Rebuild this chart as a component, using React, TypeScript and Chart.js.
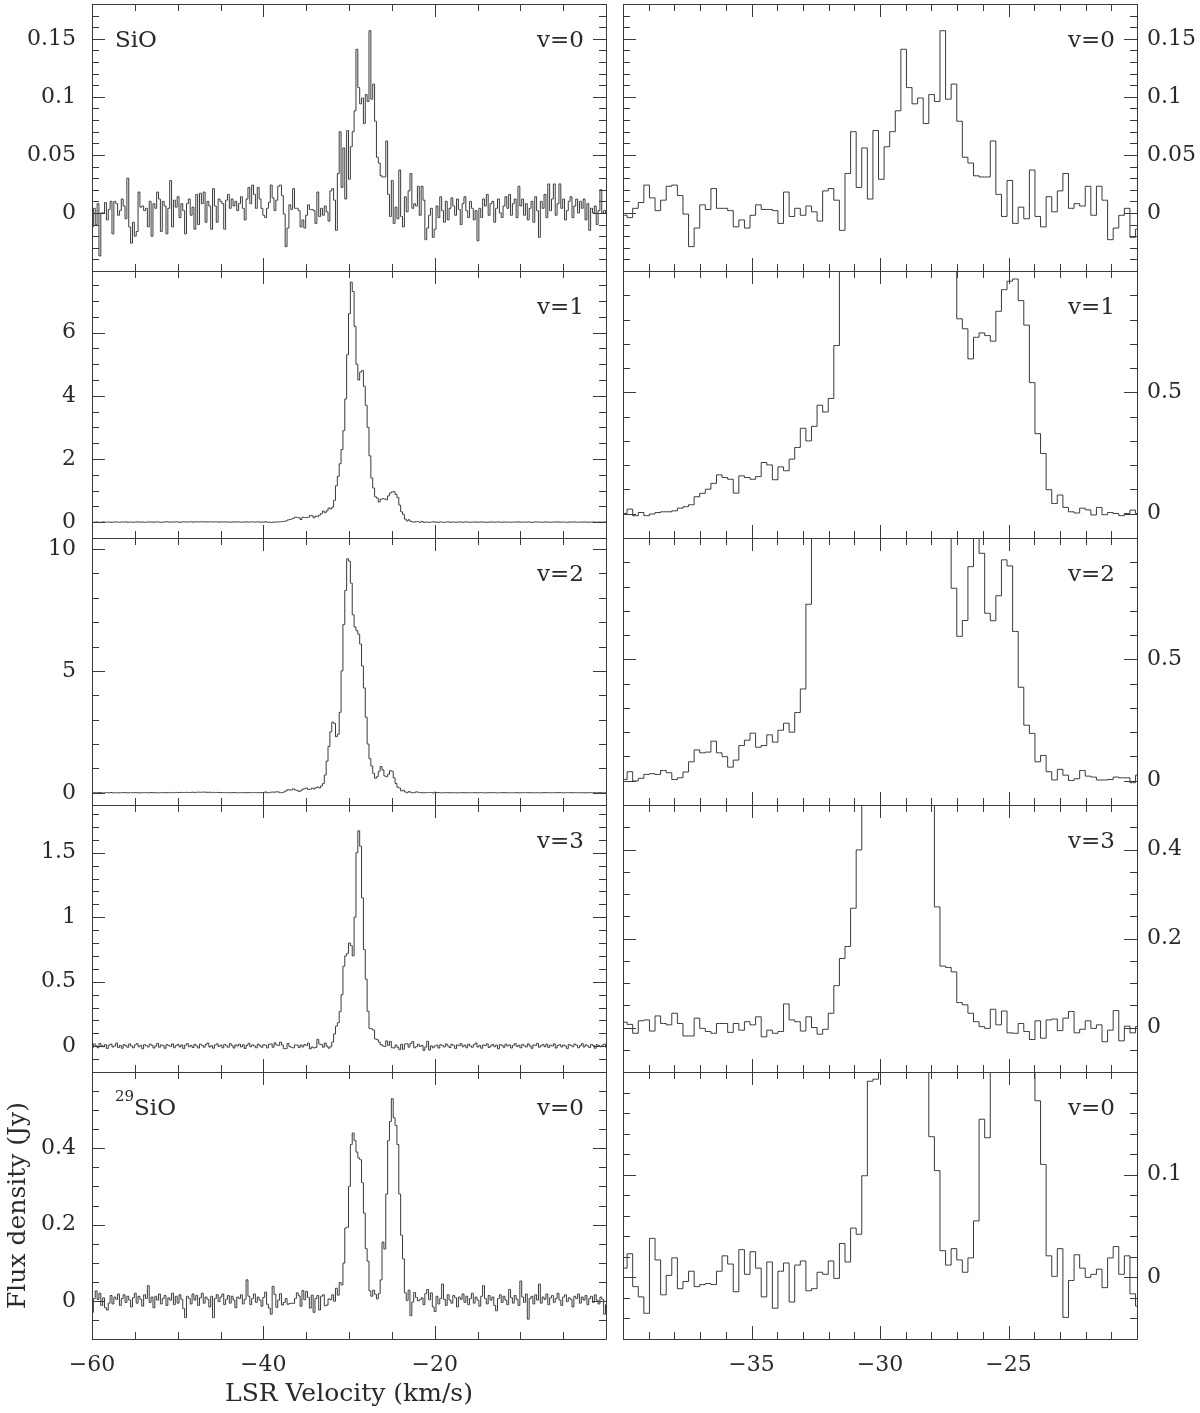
import React, { useEffect, useRef } from "react";
import { Chart, registerables } from "chart.js";

Chart.register(...registerables);

// ---------------- data ----------------
// channel grid (km/s): first channel centre and channel width
const V0 = -59.95;
const DV = 0.2174;

// SiO v=0
const sio0Blue = [
  -0.012, 0.004, -0.01, 0.008, -0.037, 0, 0, 0.009, -0.006, 0.003,
  0.01, -0.018, 0.01, 0.008, -0.002, 0.002, 0.012, 0.006, -0.005, 0.03,
  -0.012, -0.026, -0.008, -0.02, -0.016, 0.018, 0.005, 0.006, 0.002, 0.004,
  -0.012, 0.01, -0.02, 0.008, 0.004, 0.018, 0.012, -0.016, 0.01, 0.006,
  -0.018, 0.004, 0.028, -0.012, 0.011, 0.005, 0.014, -0.004, 0.008, 0.002,
  -0.018, 0.008, 0.012, -0.002, 0.005, -0.014, 0.016, -0.01, 0.017, 0.008,
  0.018, -0.008, 0.01, 0.006, -0.014, 0.021, 0.006, -0.008, 0.012, 0.01,
  0.008, -0.014, 0.011, 0.016, 0.004, 0.012, 0.006, 0.01, 0.002, 0.008,
  0.014, 0.004, -0.006, 0.012, 0.022, 0.008, 0.024, 0.016, 0.004, 0.022,
  0.012, 0.004,
];
const sio0Core = [
  -0.002, -0.004, 0.004, 0.009, 0.024, 0.013, 0.002, 0.011, 0.023, 0.024,
  0.015, -0.001, -0.029, -0.013, 0.007, 0.003, 0.021, 0.004, 0.004, 0.002,
  -0.012, -0.006, -0.013, -0.002, 0.007, 0.003, 0.003, 0.002, -0.009, 0.018,
  -0.003, 0.004, -0.002, 0.006, 0.001, -0.007, 0.019, 0.021, 0.011, -0.015,
  0.034, 0.07, 0.022, 0.056, 0.012, 0.071, 0.029, 0.057, 0.07, 0.088,
  0.141, 0.108, 0.094, 0.099, 0.077, 0.102, 0.096, 0.157, 0.098, 0.111,
  0.079, 0.048, 0.043, 0.032, 0.031, 0.031, 0.062, 0.016, -0.003, 0.028,
  -0.009, 0.005, -0.005, 0.037, -0.003, -0.012, 0.014, 0.001, 0.019, 0.034,
  0.004, 0.008, 0.006, 0.023, -0.002, 0.023, 0.011, -0.023, -0.013, -0.002,
  0.004, -0.021, -0.014,
];
const sio0Red = [
  0.006, -0.004, 0.014, 0.002, -0.008, 0.01, -0.006, 0.004, 0.013, 0.006,
  -0.002, 0.012, 0.003, -0.01, 0.008, 0.014, 0.002, -0.004, 0.01, 0.004,
  -0.006, 0.002, -0.024, 0.004, -0.004, 0.012, 0.006, 0.016, -0.002, 0.008,
  0.01, -0.008, 0.004, 0.012, 0, -0.004, 0.006, 0.014, 0.004, 0.016,
  -0.002, 0.008, 0.012, -0.004, 0.023, 0.006, 0.012, -0.002, 0.008, -0.006,
  0.004, 0.01, -0.008, 0.014, 0.002, -0.021, 0.01, 0.004, 0.016, -0.004,
  0.025, 0.002, 0.012, 0.025, -0.002, 0.008, 0.025, 0.004, 0.012, -0.006,
  0.002, 0.01, 0.014, -0.004, 0.006, 0.012, 0, 0.01, 0.004, 0.012,
  -0.006, 0.008, -0.015, 0.004, 0, 0.006, -0.01, 0.002, 0.02, 0,
  0.002, 0,
];

// SiO v=1
const v1Blue = [
  0.006, -0.004, 0.008, 0.002, -0.006, 0.004, 0.01, -0.002, 0.004, 0.008,
  -0.004, 0.002, 0.006, 0.01, 0, -0.004, 0.008, 0.004, 0.01, -0.002,
  0.006, 0.002, -0.006, 0.004, 0.01, 0.006, 0, 0.008, -0.004, 0.002,
  0.01, 0.004, 0.006, -0.002, 0.008, 0.01, 0.002, -0.006, 0.004, 0.008,
  0.012, 0.006, 0, 0.01, 0.004, 0.012, 0.006, -0.002, 0.008, 0.014,
  0.006, 0.002, 0.01, 0.012, 0.004, 0.008, 0.014, 0.006, 0.01, 0.016,
  0.008, 0.012, 0.004, 0.01, 0.014, 0.006, 0.012, 0.008, 0.002, 0.01,
  0.006, 0.012, 0.004, 0.008, -0.002, 0.006, 0.01, 0.004, 0.012, 0.006,
  0, 0.008, 0.004, 0.01, 0.002, 0.008, 0.012, 0.004, 0.006, 0.01,
  0.002, 0.006,
];
const v1Core = [
  0.001, 0.019, -0.008, 0.005, -0.008, -0.001, 0.005, 0.008, 0.008, 0.012,
  0.023, 0.029, 0.037, 0.07, 0.084, 0.101, 0.125, 0.16, 0.149, 0.142,
  0.085, 0.156, 0.149, 0.142, 0.153, 0.211, 0.201, 0.14, 0.193, 0.177,
  0.225, 0.273, 0.352, 0.3, 0.36, 0.447, 0.419, 0.475, 0.693, 1.15,
  1.45, 1.85, 2.3, 2.9, 3.9, 5.3, 6.6, 7.6, 7.3, 6.2,
  5.0, 4.5, 4.75, 4.8, 4.3, 3.7, 3.0, 2.1, 1.4, 1.08,
  0.803, 0.762, 0.638, 0.727, 0.745, 0.734, 0.711, 0.834, 0.923, 0.958,
  0.967, 0.878, 0.777, 0.54, 0.33, 0.248, 0.099, 0.042, 0.077, 0.026,
  0.008, 0.003, 0.023, 0.016, -0.005, 0.026, -0.004, 0.005, 0.001, -0.008,
  0.001, 0.015, 0.001,
];
const v1Red = [
  0.004, -0.004, 0.008, 0.002, -0.006, 0.006, 0.01, -0.002, 0.004, 0.006,
  -0.006, 0.002, 0.008, 0.004, -0.002, 0.006, 0.01, 0.002, -0.004, 0.006,
  0.002, 0.008, -0.004, 0.004, 0.01, 0, 0.006, -0.006, 0.002, 0.008,
  0.004, -0.002, 0.006, 0.01, 0.002, -0.004, 0.008, 0.004, 0, 0.006,
  -0.004, 0.002, 0.008, 0.004, 0.01, -0.002, 0.004, 0.006, 0, 0.008,
  0.002, -0.006, 0.004, 0.01, 0.006, 0, 0.004, -0.002, 0.008, 0.002,
  0.006, -0.004, 0.002, 0.008, 0.004, 0.01, -0.002, 0.006, 0.002, 0.004,
  -0.006, 0.008, 0.002, 0.004, 0.01, 0, -0.004, 0.006, 0.002, 0.008,
  0.004, -0.002, 0.006, 0, 0.008, 0.002, -0.004, 0.006, 0.004, 0.002,
  0.008, 0,
];

// SiO v=2
const v2Blue = [
  0.002, 0.008, -0.004, 0.006, 0.01, 0, -0.006, 0.004, 0.008, 0.002,
  0.012, -0.002, 0.006, 0.004, -0.004, 0.008, 0.002, 0.01, 0.006, -0.002,
  0.004, 0.008, 0, 0.012, 0.006, -0.004, 0.002, 0.008, 0.004, 0.01,
  -0.002, 0.006, 0.012, 0.002, 0.008, -0.006, 0.004, 0.01, 0.006, 0,
  0.008, 0.014, 0.004, 0.01, 0.002, 0.016, 0.008, 0.012, 0.018, 0.01,
  0.014, 0.02, 0.012, 0.018, 0.024, 0.016, 0.022, 0.028, 0.02, 0.026,
  0.03, 0.022, 0.018, 0.024, 0.014, 0.02, 0.01, 0.016, 0.008, 0.012,
  0.004, 0.01, 0.006, 0.002, 0.008, 0.004, 0.012, 0.006, 0, 0.01,
  0.004, 0.008, 0.002, 0.006, 0.012, 0.004, 0.008, 0.014, 0.006, 0.01,
  0.004, 0.008,
];
const v2Core = [
  0.005, 0.037, -0.001, 0.01, 0.026, 0.029, 0.026, 0.042, 0.033, 0.005,
  0.012, 0.036, 0.078, 0.127, 0.115, 0.118, 0.163, 0.115, 0.099, 0.056,
  0.085, 0.145, 0.167, 0.196, 0.138, 0.145, 0.189, 0.159, 0.208, 0.237,
  0.2, 0.281, 0.378, 0.727, 1.3, 1.9, 2.5, 2.9, 2.85, 2.3,
  2.4, 3.3, 5.0, 6.9, 8.3, 9.6, 9.5, 8.6, 7.3, 6.8,
  6.65, 6.5, 6.1, 5.2, 4.3, 3.1, 2.0, 1.4, 1.1, 0.793,
  0.595, 0.66, 0.882, 1.08, 0.937, 0.69, 0.659, 0.762, 0.91, 0.885,
  0.615, 0.385, 0.229, 0.195, 0.078, 0.104, 0.037, 0.003, 0.047, 0.023,
  0.001, 0.008, 0.042, 0.019, 0.015, 0.003, 0.003, 0.005, 0.015, 0.012,
  0.012, -0.008, 0.023,
];
const v2Red = [
  0.006, 0.012, 0.002, -0.004, 0.008, 0.004, 0.01, -0.002, 0.006, 0.002,
  0.008, -0.006, 0.004, 0.01, 0.002, 0.006, -0.004, 0.008, 0.004, 0,
  0.01, 0.004, -0.002, 0.006, 0.012, 0.002, -0.006, 0.004, 0.008, 0.002,
  0.006, 0.01, -0.004, 0.002, 0.008, 0.004, 0.012, 0, 0.006, -0.002,
  0.008, 0.004, 0.002, 0.01, -0.004, 0.006, 0.002, 0.008, 0.004, 0.012,
  -0.002, 0.006, 0.004, 0, 0.01, 0.002, -0.006, 0.008, 0.004, 0.006,
  0.01, -0.002, 0.004, 0.008, 0, 0.006, 0.012, 0.002, -0.004, 0.008,
  0.004, 0.002, 0.01, -0.002, 0.006, 0.004, 0.008, 0, 0.006, 0.002,
  -0.004, 0.008, 0.004, 0.01, 0.002, 0.006, -0.002, 0.004, 0.008, 0.002,
  0.006, 0.002,
];

// SiO v=3
const v3Blue = [
  -0.01, 0.018, 0.004, -0.012, 0.022, 0.006, -0.004, 0.012, -0.018, 0.008,
  0.016, -0.006, 0.002, 0.024, -0.01, 0.006, -0.016, 0.012, 0.004, -0.008,
  0.018, 0.002, -0.012, 0.01, 0.02, -0.004, 0.006, -0.02, 0.012, 0.004,
  -0.006, 0.016, 0.008, -0.014, 0.002, 0.022, -0.008, 0.01, 0.004, -0.016,
  0.012, 0.006, -0.002, 0.018, -0.012, 0.004, 0.014, -0.006, 0.01, -0.018,
  0.008, 0.02, -0.004, 0.006, -0.01, 0.014, 0.002, -0.014, 0.016, 0.006,
  -0.008, 0.012, 0.024, -0.006, 0.004, -0.016, 0.01, 0.018, -0.002, 0.008,
  -0.012, 0.014, 0.004, -0.008, 0.02, 0.006, -0.014, 0.01, 0.002, 0.016,
  -0.006, 0.012, -0.018, 0.006, 0.022, -0.004, 0.01, 0.002, -0.012, 0.016,
  0.004, -0.008,
];
const v3Core = [
  0.012, 0.007, -0.013, 0.015, 0.017, -0.008, 0.026, 0.009, 0.006, 0.032,
  0.009, -0.019, -0.019, 0.021, -0.002, -0.009, -0.013, 0.009, 0.009, -0.011,
  0.009, -0.006, 0.013, 0.006, 0.024, -0.021, -0.006, -0.013, -0.009, 0.053,
  0.017, 0.013, -0.008, 0.024, 0.0, -0.015, -0.004, 0.032, 0.094, 0.155,
  0.182, 0.268, 0.399, 0.62, 0.7, 0.72, 0.8, 0.78, 0.7, 1.0,
  1.5, 1.67, 1.55, 1.15, 0.75, 0.52, 0.271, 0.138, 0.135, 0.125,
  0.056, 0.051, 0.032, 0.013, 0.002, -0.002, 0.041, 0.006, 0.037, -0.012,
  -0.013, 0.009, -0.009, -0.027, 0.015, -0.024, 0.017, 0.019, -0.007, 0.021,
  0.036, -0.012, -0.004, 0.015, -0.002, 0.006, -0.032, -0.006, 0.038, -0.03,
  0.003, -0.012, 0.002,
];
const v3Red = [
  0.008, -0.014, 0.012, 0.004, -0.006, 0.018, 0.002, -0.01, 0.014, 0.006,
  -0.018, 0.01, 0.004, 0.02, -0.004, 0.008, -0.012, 0.016, 0.002, -0.008,
  0.012, 0.024, -0.006, 0.006, -0.016, 0.01, 0.004, 0.018, -0.01, 0.002,
  0.014, -0.004, 0.008, -0.02, 0.012, 0.006, -0.008, 0.016, 0.002, 0.01,
  -0.014, 0.006, 0.02, -0.002, 0.008, -0.012, 0.014, 0.004, -0.006, 0.018,
  0.002, -0.016, 0.01, 0.006, 0.022, -0.008, 0.004, 0.012, -0.004, 0.016,
  -0.01, 0.008, 0.002, 0.018, -0.014, 0.006, 0.012, -0.006, 0.01, 0.002,
  -0.018, 0.014, 0.006, -0.004, 0.016, 0.008, -0.012, 0.004, 0.02, -0.006,
  0.01, 0.002, -0.01, 0.014, 0.006, -0.016, 0.012, 0.004, -0.004, 0.008,
  0.016, -0.008,
];

// 29SiO v=0
const si29Blue = [
  -0.03, 0.006, 0.026, 0.004, 0.02, -0.012, 0.008, -0.018, -0.024, -0.006,
  0.014, -0.008, 0.01, 0.004, 0.018, -0.012, 0.006, 0.016, -0.004, 0.012,
  0.002, -0.016, 0.008, 0.02, -0.006, 0.012, 0.004, -0.014, 0.016, 0.006,
  0.04, -0.004, 0.01, -0.018, 0.012, 0.002, 0.018, -0.008, 0.006, 0.014,
  -0.012, 0.008, 0.002, 0.02, -0.01, 0.012, -0.006, 0.016, 0.004, -0.02,
  -0.044, 0.012, 0.006, -0.008, 0.018, 0.002, 0.014, -0.012, 0.008, 0.02,
  -0.006, 0.01, 0.004, -0.016, 0.012, -0.044, 0.006, 0.016, -0.002, 0.01,
  0.018, -0.01, 0.004, 0.014, -0.006, 0.012, 0.002, -0.018, 0.01, 0.006,
  0.016, -0.008, 0.004, 0.055, 0.012, -0.01, 0.006, 0.018, -0.004, 0.01,
  0.002, -0.014,
];
const si29Core = [
  0.009, 0.023, -0.009, -0.019, -0.035, 0.038, 0.017, -0.017, 0.002, 0.019,
  -0.011, -0.004, 0.006, -0.009, -0.007, -0.006, -0.007, 0.006, 0.021, 0.013,
  -0.014, 0.027, 0.003, 0.025, 0.009, -0.019, 0.015, -0.03, 0.006, 0.014,
  -0.024, 0.012, 0.016, -0.013, -0.011, 0.005, 0.003, 0.016, -0.001, 0.033,
  0.015, 0.048, 0.042, 0.099, 0.191, 0.193, 0.3, 0.41, 0.44, 0.42,
  0.39, 0.375, 0.37, 0.31, 0.23, 0.137, 0.104, 0.026, 0.012, 0.028,
  0.017, 0.005, 0.019, 0.055, 0.154, 0.136, 0.28, 0.42, 0.47, 0.53,
  0.48, 0.46, 0.41, 0.28, 0.172, 0.11, 0.021, 0.001, 0.028, -0.039,
  -0.003, 0.022, 0.009, 0.0, 0.003, 0.008, -0.01, 0.019, 0.03, 0.003,
  0.021, -0.016, -0.028,
];
const si29Red = [
  0.012, -0.008, 0.006, 0.044, 0.004, -0.012, 0.016, 0.002, -0.006, 0.014,
  0.008, -0.016, 0.01, 0.004, 0.018, -0.004, 0.012, -0.01, 0.006, 0.02,
  -0.006, 0.01, 0.002, -0.014, 0.012, 0.04, 0.006, -0.008, 0.014, 0.002,
  0.01, -0.012, -0.026, 0.006, 0.016, -0.004, 0.012, 0.002, -0.01, 0.03,
  0.008, -0.006, 0.014, 0.004, -0.012, 0.052, 0.01, -0.004, 0.018, -0.048,
  0.006, 0.012, -0.008, 0.016, 0.002, 0.044, -0.006, 0.01, 0.004, 0.018,
  -0.01, 0.008, 0.014, -0.004, 0.006, 0.02, 0.002, -0.012, 0.01, 0.016,
  -0.002, 0.008, 0.004, -0.016, 0.012, 0.006, 0.018, -0.006, 0.01, 0.002,
  0.014, -0.01, 0.006, 0.012, -0.004, 0.016, 0.002, -0.008, 0.01, 0.004,
  -0.035, -0.01,
];

const SIO_V0 = [...sio0Blue, ...sio0Core, ...sio0Red];
const SIO_V1 = [...v1Blue, ...v1Core, ...v1Red];
const SIO_V2 = [...v2Blue, ...v2Core, ...v2Red];
const SIO_V3 = [...v3Blue, ...v3Core, ...v3Red];
const SI29_V0 = [...si29Blue, ...si29Core, ...si29Red];

const VELOCITY = SIO_V0.map((_, j) => Math.round((V0 + j * DV) * 10000) / 10000);

// axis definitions
type Axis = { min: number; max: number; labels: number[]; major: number; minor: number };
const X_LEFT: Axis = { min: -60, max: 0, labels: [-60, -40, -20], major: 20, minor: 5 };
const X_RIGHT: Axis = { min: -40, max: -20, labels: [-35, -30, -25], major: 5, minor: 1 };
const Y_AXES: Axis[][] = [
  [
    { min: -0.05, max: 0.18, labels: [0, 0.05, 0.1, 0.15], major: 0.05, minor: 0.01 },
    { min: -0.05, max: 0.18, labels: [0, 0.05, 0.1, 0.15], major: 0.05, minor: 0.01 },
  ],
  [
    { min: -0.5, max: 7.95, labels: [0, 2, 4, 6], major: 2, minor: 0.5 },
    { min: -0.1, max: 1.0, labels: [0, 0.5], major: 0.5, minor: 0.1 },
  ],
  [
    { min: -0.5, max: 10.45, labels: [0, 5, 10], major: 5, minor: 1 },
    { min: -0.1, max: 1.0, labels: [0, 0.5], major: 0.5, minor: 0.1 },
  ],
  [
    { min: -0.2, max: 1.87, labels: [0, 0.5, 1, 1.5], major: 0.5, minor: 0.1 },
    { min: -0.1, max: 0.5, labels: [0, 0.2, 0.4], major: 0.2, minor: 0.05 },
  ],
  [
    { min: -0.1, max: 0.6, labels: [0, 0.2, 0.4], major: 0.2, minor: 0.05 },
    { min: -0.06, max: 0.2, labels: [0, 0.1], major: 0.1, minor: 0.02 },
  ],
];

const SERIES = [SIO_V0, SIO_V1, SIO_V2, SIO_V3, SI29_V0];
const STATE_LABELS = ["v=0", "v=1", "v=2", "v=3", "v=0"];

// ---------------- layout / style ----------------
const PAGE_W = 1200;
const PAGE_H = 1413;
const COL_X = [
  [92, 606],
  [623, 1137],
];
const ROW_Y = [
  [4, 271],
  [271, 538],
  [538, 805],
  [805, 1072],
  [1072, 1339],
];
const FAMILY = '"DejaVu Serif", "Liberation Serif", serif';
const LINE = "#3a3a3a";
const TEXT = "#2a2a2a";
const MAJOR_LEN = 13;
const MINOR_LEN = 7;

function tickList(a: Axis) {
  const out: { v: number; major: boolean }[] = [];
  const n0 = Math.ceil(a.min / a.minor - 1e-6);
  const n1 = Math.floor(a.max / a.minor + 1e-6);
  for (let n = n0; n <= n1; n++) {
    const v = n * a.minor;
    const r = v / a.major;
    out.push({ v, major: Math.abs(r - Math.round(r)) < 1e-6 });
  }
  return out;
}

function fmt(v: number) {
  const s = String(Math.round(v * 1000) / 1000);
  return s.replace("-", "\u2212");
}

const decoPlugin = {
  id: "deco",
  afterDraw(chart: any, _args: any, o: any) {
    const { ctx, chartArea: a } = chart;
    const xs = chart.scales.x;
    const ys = chart.scales.y;
    ctx.save();
    ctx.strokeStyle = LINE;
    ctx.lineWidth = 1;
    ctx.beginPath();
    ctx.rect(a.left + 0.5, a.top + 0.5, a.right - a.left, a.bottom - a.top);
    for (const t of tickList(o.xAxis)) {
      const px = Math.round(xs.getPixelForValue(t.v)) + 0.5;
      const L = t.major ? MAJOR_LEN : MINOR_LEN;
      ctx.moveTo(px, a.bottom);
      ctx.lineTo(px, a.bottom - L);
      ctx.moveTo(px, a.top);
      ctx.lineTo(px, a.top + L);
    }
    for (const t of tickList(o.yAxis)) {
      const py = Math.round(ys.getPixelForValue(t.v)) + 0.5;
      const L = t.major ? MAJOR_LEN : MINOR_LEN;
      ctx.moveTo(a.left, py);
      ctx.lineTo(a.left + L, py);
      ctx.moveTo(a.right, py);
      ctx.lineTo(a.right - L, py);
    }
    ctx.stroke();

    ctx.fillStyle = TEXT;
    ctx.textBaseline = "alphabetic";
    ctx.font = `23px ${FAMILY}`;
    ctx.textAlign = "right";
    ctx.fillText(o.state, a.right - 22, a.top + 43);
    ctx.textAlign = "left";
    if (o.iso) {
      ctx.font = `15px ${FAMILY}`;
      ctx.fillText(o.iso, a.left + 23, a.top + 29);
      const w = ctx.measureText(o.iso).width;
      ctx.font = `23px ${FAMILY}`;
      ctx.fillText(o.molecule, a.left + 23 + w, a.top + 43);
    } else if (o.molecule) {
      ctx.fillText(o.molecule, a.left + 23, a.top + 43);
    }
    ctx.restore();
  },
};

type PanelDef = { row: number; col: number };
const PANELS: PanelDef[] = [];
for (let r = 0; r < 5; r++) for (let c = 0; c < 2; c++) PANELS.push({ row: r, col: c });

function buildConfig(p: PanelDef): any {
  const [x0, x1] = COL_X[p.col];
  const [y0, y1] = ROW_Y[p.row];
  const bottomRow = p.row === 4;
  const xAxis = p.col === 0 ? X_LEFT : X_RIGHT;
  const yAxis = Y_AXES[p.row][p.col];
  const Y_W = p.col === 0 ? 92 : 63;
  const X_H = bottomRow ? 74 : 0;
  const padding = {
    left: p.col === 0 ? x0 - Y_W : x0,
    right: p.col === 0 ? PAGE_W - x1 : PAGE_W - x1 - Y_W,
    top: y0,
    bottom: PAGE_H - y1 - X_H,
  };
  const series = SERIES[p.row];
  const pts = VELOCITY.map((x, j) => ({ x, y: series[j] }));
  const showTitles = bottomRow && p.col === 0;
  let molecule = "";
  let iso = "";
  if (p.col === 0 && p.row === 0) molecule = "SiO";
  if (p.col === 0 && p.row === 4) {
    molecule = "SiO";
    iso = "29";
  }

  return {
    type: "line",
    data: {
      datasets: [
        {
          data: pts,
          borderColor: LINE,
          borderWidth: 1,
          pointRadius: 0,
          stepped: "middle",
          fill: false,
        },
      ],
    },
    options: {
      animation: false,
      responsive: false,
      maintainAspectRatio: false,
      events: [],
      layout: { padding },
      plugins: {
        legend: { display: false },
        tooltip: { enabled: false },
        deco: { xAxis, yAxis, state: STATE_LABELS[p.row], molecule, iso },
      },
      scales: {
        x: {
          type: "linear",
          min: xAxis.min,
          max: xAxis.max,
          display: bottomRow,
          position: "bottom",
          grid: { display: false, drawTicks: false },
          border: { display: false },
          afterBuildTicks: (s: any) => {
            s.ticks = xAxis.labels.map((v) => ({ value: v }));
          },
          afterFit: (s: any) => {
            s.height = X_H;
            s.paddingLeft = 0;
            s.paddingRight = 0;
            s.paddingTop = 0;
            s.paddingBottom = 0;
          },
          ticks: {
            autoSkip: false,
            maxRotation: 0,
            padding: 13,
            color: TEXT,
            font: { family: FAMILY, size: 22 },
            callback: (v: any) => fmt(Number(v)),
          },
          title: {
            display: showTitles,
            text: "LSR Velocity (km/s)",
            color: TEXT,
            font: { family: FAMILY, size: 25 },
            padding: { top: 0, bottom: 4 },
          },
        },
        y: {
          type: "linear",
          min: yAxis.min,
          max: yAxis.max,
          position: p.col === 0 ? "left" : "right",
          grid: { display: false, drawTicks: false },
          border: { display: false },
          afterBuildTicks: (s: any) => {
            s.ticks = yAxis.labels.map((v) => ({ value: v }));
          },
          afterFit: (s: any) => {
            s.width = Y_W;
            s.paddingTop = 0;
            s.paddingBottom = 0;
            s.paddingLeft = 0;
            s.paddingRight = 0;
          },
          ticks: {
            autoSkip: false,
            padding: p.col === 0 ? 16 : 10,
            color: TEXT,
            font: { family: FAMILY, size: 22 },
            callback: (v: any) => fmt(Number(v)),
          },
          title: {
            display: showTitles,
            text: "Flux density (Jy)",
            color: TEXT,
            font: { family: FAMILY, size: 25 },
            padding: { top: 3, bottom: 0 },
          },
        },
      },
    },
    plugins: [decoPlugin],
  };
}

export default function App() {
  const refs = useRef<(HTMLCanvasElement | null)[]>([]);
  useEffect(() => {
    const charts = PANELS.map((p, i) => new Chart(refs.current[i] as HTMLCanvasElement, buildConfig(p)));
    return () => charts.forEach((c) => c.destroy());
  }, []);
  return (
    <div
      style={{
        position: "absolute",
        left: 0,
        top: 0,
        width: PAGE_W,
        height: PAGE_H,
        background: "#fff",
        overflow: "hidden",
      }}
    >
      {PANELS.map((_, i) => (
        <canvas
          key={i}
          ref={(el) => {
            refs.current[i] = el;
          }}
          width={PAGE_W}
          height={PAGE_H}
          style={{ position: "absolute", left: 0, top: 0, width: PAGE_W, height: PAGE_H }}
        />
      ))}
    </div>
  );
}
